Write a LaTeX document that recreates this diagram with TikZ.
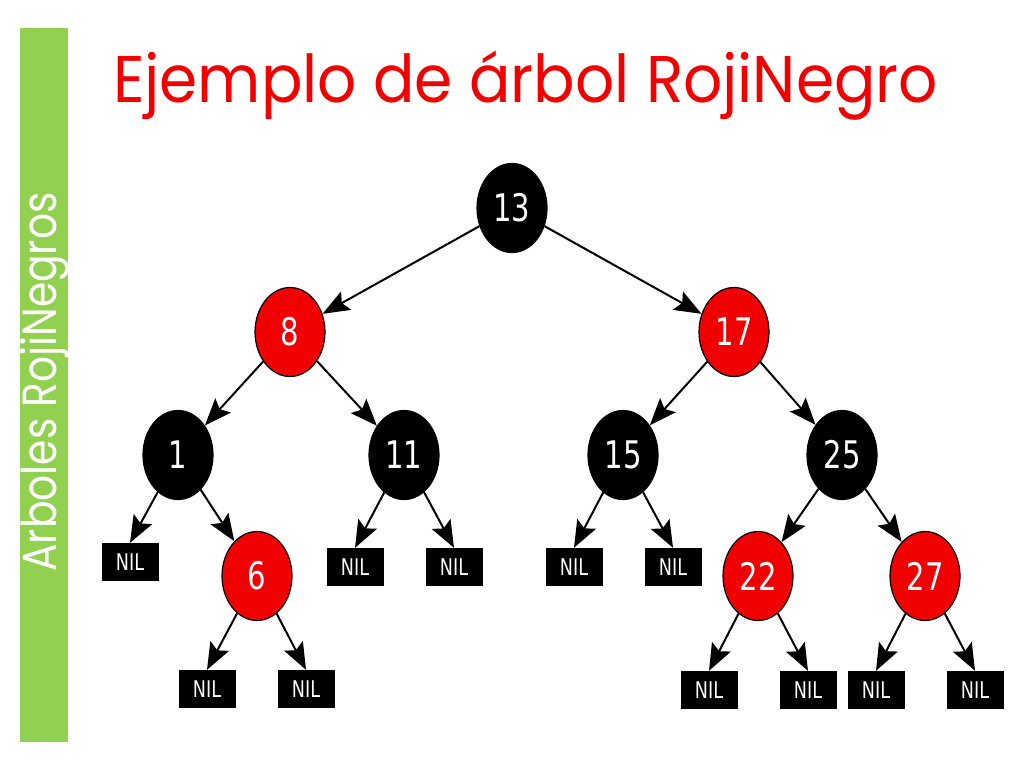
\documentclass[tikz,border=0pt]{standalone}
\usepackage{fontspec}
\setmainfont{Poppins}
\newfontfamily\titlefont{Poppins}[FakeStretch=0.93]
\newfontfamily\sidefont{Poppins}[FakeStretch=0.85]
\newfontfamily\nodefont{DejaVu Sans Condensed}[FakeStretch=0.85]
\usetikzlibrary{shapes.geometric, arrows.meta}
\definecolor{titlered}{RGB}{242,0,0}
\definecolor{nodered}{RGB}{240,0,0}
\definecolor{bargreen}{RGB}{146,208,80}
\tikzstyle{arrow} = [-{Stealth[length=27pt,width=21pt,inset=5pt]},line width=2pt]
\tikzstyle{rbnode} = [ellipse,draw=black,line width=1.2pt,minimum width=70pt,minimum height=89pt,inner sep=0pt,text=white,font=\nodefont\fontsize{38}{38}\selectfont]
\tikzstyle{rednode} = [rbnode,fill=nodered]
\tikzstyle{blacknode} = [rbnode,fill=black]
\tikzstyle{nil} = [rectangle,fill=black,minimum width=57pt,minimum height=38pt,inner sep=0pt,text=white,font=\nodefont\fontsize{23}{23}\selectfont]

\begin{document}
\begin{tikzpicture}[x=1pt,y=-1pt]
      \useasboundingbox(0,0)rectangle(1024,768);
      \fill[bargreen](20,28)rectangle(68,742);
      \node[rotate=90,text=white,font=\sidefont\fontsize{48}{48}\selectfont](side)at(45,382){Arboles RojiNegros};
      \node[anchor=base west,inner sep=0pt,text=titlered,font=\titlefont\fontsize{66}{66}\selectfont](title)at(113,102){Ejemplo de árbol RojiNegro};
      % tree
      \node[blacknode](n13)at(512,208){13};
      \node[rednode](n8)at(290,332){8};
      \node[rednode](n17)at(734,332){17};
      \node[blacknode](n1)at(178,455){1};
      \node[blacknode](n11)at(404,455){11};
      \node[blacknode](n15)at(623,455){15};
      \node[blacknode](n25)at(842,455){25};
      \node[rednode](n6)at(257,576){6};
      \node[rednode](n22)at(758,576){22};
      \node[rednode](n27)at(925,576){27};
      % NIL leaves
      \node[nil](nil1)at(130,562){NIL};
      \node[nil](nil6a)at(207,689){NIL};
      \node[nil](nil6b)at(306,689){NIL};
      \node[nil](nil11a)at(355,567){NIL};
      \node[nil](nil11b)at(454,567){NIL};
      \node[nil](nil15a)at(574,567){NIL};
      \node[nil](nil15b)at(673,567){NIL};
      \node[nil](nil22a)at(709,690){NIL};
      \node[nil](nil22b)at(808,690){NIL};
      \node[nil](nil27a)at(876,690){NIL};
      \node[nil](nil27b)at(975,690){NIL};
      \foreach \a/\b in {n13/n8,n13/n17,n8/n1,n8/n11,n1/n6,n17/n15,n17/n25,n25/n22,n25/n27}
        \draw[arrow](\a)--(\b);
      \foreach \a/\b in {n1/nil1,n6/nil6a,n6/nil6b,n11/nil11a,n11/nil11b,n15/nil15a,n15/nil15b,n22/nil22a,n22/nil22b,n27/nil27a,n27/nil27b}
        \draw[arrow](\a)--(\b.north);
    \end{tikzpicture}
\end{document}
